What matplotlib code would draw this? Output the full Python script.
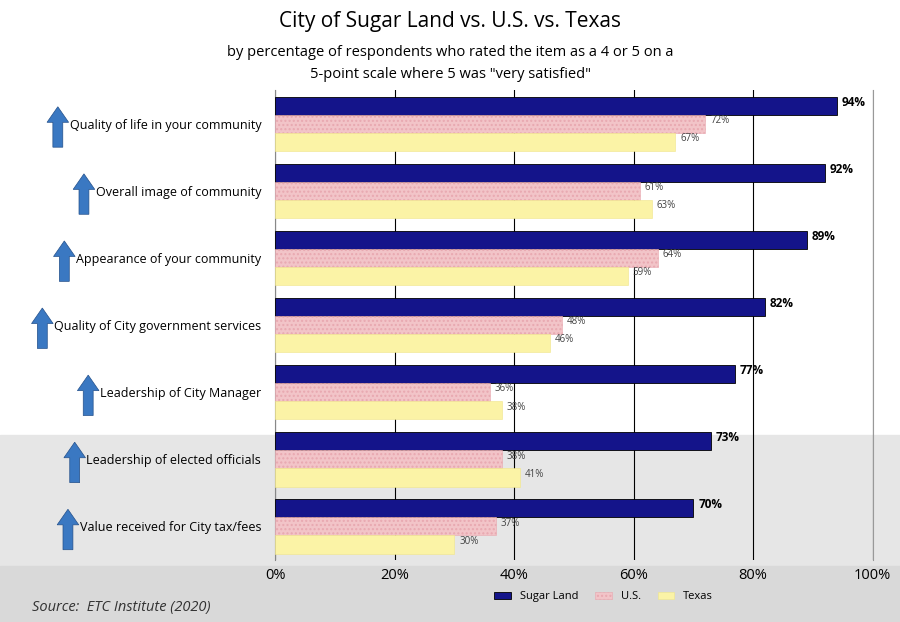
import matplotlib
matplotlib.use("Agg")
import matplotlib.pyplot as plt
import numpy as np
from matplotlib.patches import FancyArrow, Rectangle

categories = ["Quality of life in your community", "Overall image of community",
              "Appearance of your community", "Quality of City government services",
              "Leadership of City Manager", "Leadership of elected officials",
              "Value received for City tax/fees"]
sugar_land = [94, 92, 89, 82, 77, 73, 70]
us = [72, 61, 64, 48, 36, 38, 37]
texas = [67, 63, 59, 46, 38, 41, 30]
xticks = [0, 20, 40, 60, 80, 100]

plt.rcParams['font.family'] = ['Open Sans', 'DejaVu Sans']
fig = plt.figure(figsize=(9, 6.22), dpi=100)
fig.patches.append(Rectangle((0, 0), 1, 0.30, transform=fig.transFigure, color='#e6e6e6', zorder=-10))
fig.patches.append(Rectangle((0, 0), 1, 0.09, transform=fig.transFigure, color='#d9d9d9', zorder=-9))
ax = fig.add_axes([0.3056, 0.0997, 0.664, 0.755])
ax.set_facecolor('none')

n = len(categories)
y = np.arange(n)[::-1].astype(float)
h = 0.27
ax.barh(y + h, sugar_land, h, color='#14148a', edgecolor='black', lw=0.6, label='Sugar Land', zorder=3)
ax.barh(y, us, h, color='#f2c4c8', edgecolor='#e8a8b0', lw=0.4, hatch='....', label='U.S.', zorder=3)
ax.barh(y - h, texas, h, color='#fbf3a6', edgecolor='#f0e68a', lw=0.4, label='Texas', zorder=3)
for yi, a, b, c in zip(y, sugar_land, us, texas):
    ax.text(a + 0.8, yi + h + 0.05, f"{a}%", fontsize=8.5, fontweight='bold', va='center')
    ax.text(b + 0.8, yi + 0.05, f"{b}%", fontsize=7, va='center', color='#444')
    ax.text(c + 0.8, yi - h + 0.05, f"{c}%", fontsize=7, va='center', color='#444')

ax.set_xlim(0, 100)
ax.set_ylim(-0.5, n - 0.5)
ax.set_xticks(xticks)
ax.set_xticklabels([f"{t}%" for t in xticks], fontsize=10.5)
ax.set_yticks(y)
ax.set_yticklabels(categories, fontsize=9)
ax.tick_params(axis='y', length=0, pad=10)
ax.tick_params(axis='x', length=0, pad=6)
ax.grid(axis='x', color='black', lw=0.8, zorder=0)
for s in ax.spines.values():
    s.set_visible(False)
ax.spines['left'].set_visible(True)
ax.spines['left'].set_color('#888')
ax.spines['right'].set_visible(True)
ax.spines['right'].set_color('#999')

fig.text(0.5, 0.965, "City of Sugar Land vs. U.S. vs. Texas", ha='center', va='center', fontsize=15)
fig.text(0.5, 0.915, "by percentage of respondents who rated the item as a 4 or 5 on a", ha='center', va='center', fontsize=10.5)
fig.text(0.5, 0.88, '5-point scale where 5 was "very satisfied"', ha='center', va='center', fontsize=10.5)
fig.text(0.035, 0.018, "Source:  ETC Institute (2020)", fontsize=10.5, style='italic', color='#333')
ax.legend(loc='upper center', bbox_to_anchor=(0.55, -0.045), ncol=3, frameon=False, fontsize=8,
          handlelength=1.5, handleheight=0.6, columnspacing=1.5)

fig.canvas.draw()
r = fig.canvas.get_renderer()
inv = fig.transFigure.inverted()
for lab in ax.get_yticklabels():
    bb = lab.get_window_extent(r)
    (x0, y0), (x1, y1) = inv.transform([[bb.x0, bb.y0], [bb.x1, bb.y1]])
    yc = (y0 + y1) / 2
    fig.patches.append(FancyArrow(x0 - 0.013, yc - 0.035, 0, 0.065, width=0.011, head_width=0.024,
                                  head_length=0.025, color='#3a78c2', ec='#24508a', lw=0.5,
                                  transform=fig.transFigure, length_includes_head=True))
fig.savefig("out.png", dpi=100)
